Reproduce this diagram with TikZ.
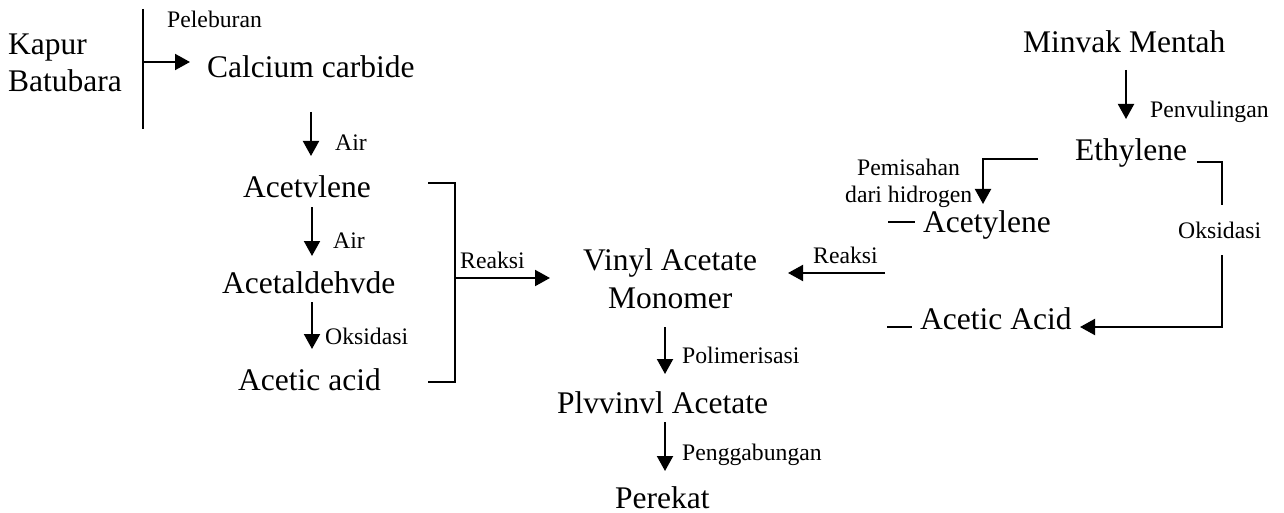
\documentclass[tikz,border=0pt]{standalone}
\usepackage{fontspec}
\setmainfont{Liberation Serif}
\usetikzlibrary{arrows.meta}
\tikzset{
  big/.style={font=\fontsize{31.5}{36}\selectfont, inner sep=0pt, anchor=base west},
  small/.style={font=\fontsize{23.7}{28}\selectfont, inner sep=0pt, anchor=base west},
  ln/.style={line width=2pt},
  arr/.style={line width=2pt, -{Triangle[length=15pt,width=16pt]}}
}
\begin{document}
\begin{tikzpicture}[x=1pt,y=-1pt]
\useasboundingbox (0,0) rectangle (1284,513);
% text nodes
\node[big] (kapur) at (8,55) {Kapur};
\node[big] (batu) at (8,92) {Batubara};
\node[small] (pelebur) at (167,28) {Peleburan};
\node[big] (calc) at (207,78) {Calcium carbide};
\node[small] (air1) at (335,151) {Air};
\node[big] (acetL) at (243,197) {Acetvlene};
\node[small] (air2) at (333,248) {Air};
\node[big] (ald) at (222,293) {Acetaldehvde};
\node[small] (oksL) at (325,344) {Oksidasi};
\node[big] (acidL) at (238,390) {Acetic acid};
\node[small] (reakL) at (460,268) {Reaksi};
\node[big] (vinyl) at (583,270) {Vinyl Acetate};
\node[big] (mono) at (608,308) {Monomer};
\node[small] (reakR) at (813,263) {Reaksi};
\node[small] (polim) at (682,363) {Polimerisasi};
\node[big] (pva) at (557,413) {Plvvinvl Acetate};
\node[small] (peng) at (682,460) {Penggabungan};
\node[big] (perekat) at (615,508) {Perekat};
\node[big] (minyak) at (1023,53) {Minvak Mentah};
\node[small] (penyul) at (1150,118) {Penvulingan};
\node[big] (eth) at (1075,161) {Ethylene};
\node[small] (pemis) at (857,176) {Pemisahan};
\node[small] (dari) at (845,202) {dari hidrogen};
\node[big] (acetR) at (923,232) {Acetylene};
\node[small] (oksR) at (1178,238) {Oksidasi};
\node[big] (acidR) at (920,329) {Acetic Acid};
% coordinates
\coordinate (a1) at (143,9);
\coordinate (a2) at (143,129);
\coordinate (a3) at (143,62);
\coordinate (a4) at (190,62);
\coordinate (b1) at (311,112);
\coordinate (b2) at (311,156);
\coordinate (c1) at (312,207);
\coordinate (c2) at (312,256);
\coordinate (d1) at (312,302);
\coordinate (d2) at (312,349);
\coordinate (e1) at (428,183);
\coordinate (e2) at (455,183);
\coordinate (e3) at (455,382);
\coordinate (e4) at (428,382);
\coordinate (e5) at (455,278);
\coordinate (e6) at (550,278);
\coordinate (f1) at (885,273);
\coordinate (f2) at (788,273);
\coordinate (g1) at (665,327);
\coordinate (g2) at (665,374);
\coordinate (h1) at (665,422);
\coordinate (h2) at (665,471);
\coordinate (i1) at (1126,70);
\coordinate (i2) at (1126,119);
\coordinate (j1) at (1038,159);
\coordinate (j2) at (983,159);
\coordinate (j3) at (983,204);
\coordinate (k1) at (888,222);
\coordinate (k2) at (915,222);
\coordinate (l1) at (1197,162);
\coordinate (l2) at (1222,162);
\coordinate (l3) at (1222,205);
\coordinate (m1) at (1222,255);
\coordinate (m2) at (1222,327);
\coordinate (m3) at (1080,327);
\coordinate (n1) at (887,327);
\coordinate (n2) at (912,327);
% connectors
\draw[ln] (a1) -- (a2);
\draw[arr] (a3) -- (a4);
\draw[arr] (b1) -- (b2);
\draw[arr] (c1) -- (c2);
\draw[arr] (d1) -- (d2);
\draw[ln] (e1) -- (e2) -- (e3) -- (e4);
\draw[arr] (e5) -- (e6);
\draw[arr] (f1) -- (f2);
\draw[arr] (g1) -- (g2);
\draw[arr] (h1) -- (h2);
\draw[arr] (i1) -- (i2);
\draw[arr] (j1) -- (j2) -- (j3);
\draw[ln] (k1) -- (k2);
\draw[ln] (l1) -- (l2) -- (l3);
\draw[arr] (m1) -- (m2) -- (m3);
\draw[ln] (n1) -- (n2);
\end{tikzpicture}
\end{document}
